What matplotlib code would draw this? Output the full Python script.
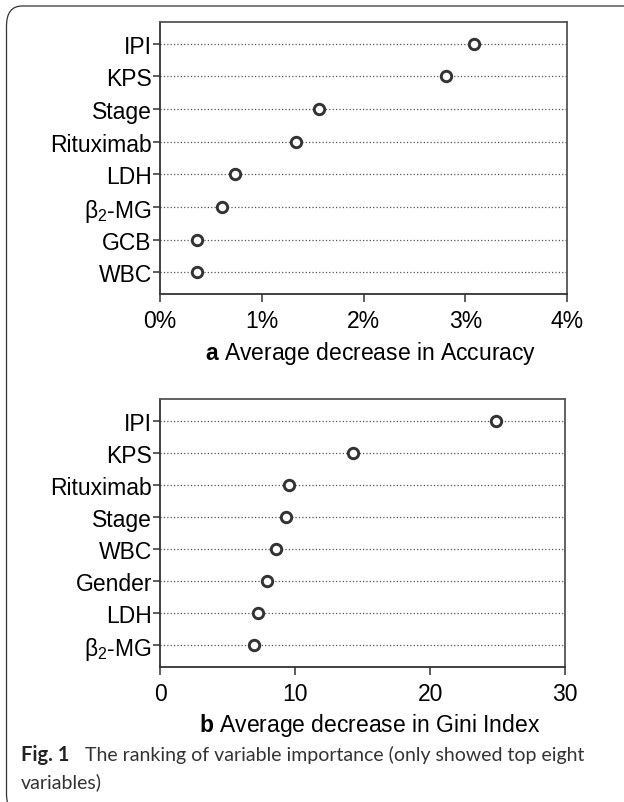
import matplotlib
matplotlib.use("Agg")
import matplotlib.pyplot as plt
from matplotlib.patches import FancyBboxPatch

plt.rcParams['font.family'] = ['Liberation Sans', 'DejaVu Sans']
plt.rcParams['mathtext.fontset'] = 'custom'
plt.rcParams['mathtext.rm'] = 'Liberation Sans'
plt.rcParams['mathtext.bf'] = 'Liberation Sans:bold'

# panel a: average decrease in accuracy (%)
acc_vars = ["IPI", "KPS", "Stage", "Rituximab", "LDH", r"$\mathrm{β}_{2}$-MG", "GCB", "WBC"]
acc_vals = [3.09, 2.81, 1.56, 1.335, 0.735, 0.612, 0.363, 0.36]
acc_ticks = [0, 1, 2, 3, 4]
acc_ticklabels = ["0%", "1%", "2%", "3%", "4%"]

# panel b: average decrease in Gini index
gini_vars = ["IPI", "KPS", "Rituximab", "Stage", "WBC", "Gender", "LDH", r"$\mathrm{β}_{2}$-MG"]
gini_vals = [24.9, 14.26, 9.55, 9.3, 8.55, 7.93, 7.21, 6.97]
gini_ticks = [0, 10, 20, 30]

W, H = 624, 803
fig = plt.figure(figsize=(W / 100, H / 100), dpi=100)

dark = "#333333"
frame = "#555555"
cap_font = ["Lato", "Open Sans", "DejaVu Sans"]


def dot_panel(rect, names, vals, xmax, ticks, ticklabels, label):
    ax = fig.add_axes(rect)
    ypos = list(range(len(names)))
    for y in ypos:
        ax.plot([0, xmax], [y, y], color="#555555", lw=0.9,
                linestyle=(0, (1, 1.7)), zorder=1, clip_on=False)
    ax.plot(vals, ypos, "o", ms=7.5, mfc="white", mec=dark, mew=2.1, zorder=3,
            clip_on=False)
    ax.set_xlim(0, xmax)
    ax.set_ylim(len(names) - 1 + 0.67, -0.67)
    ax.set_yticks(ypos)
    ax.set_yticklabels(names, fontsize=16.5)
    ax.set_xticks(ticks)
    ax.set_xticklabels(ticklabels, fontsize=16.5)
    ax.tick_params(axis="y", length=5, width=1.1, color=dark, pad=1)
    ax.tick_params(axis="x", length=6, width=1.1, color=dark, pad=5)
    for s in ["left", "bottom"]:
        ax.spines[s].set_color(dark)
        ax.spines[s].set_linewidth(1.3)
    for s in ["top", "right"]:
        ax.spines[s].set_color(frame)
        ax.spines[s].set_linewidth(1.3)
    ax.set_xlabel(label, fontsize=16.5, labelpad=5)
    ax.xaxis.set_label_coords(0.517, -0.165)
    return ax


dot_panel([160 / W, 1 - 295 / H, 407 / W, 272 / H], acc_vars, acc_vals, 4,
          acc_ticks, acc_ticklabels, r"$\mathbf{a}$ Average decrease in Accuracy")
dot_panel([160.5 / W, 1 - 668 / H, 404.5 / W, 268 / H], gini_vars, gini_vals, 30,
          gini_ticks, [str(t) for t in gini_ticks],
          r"$\mathbf{b}$ Average decrease in Gini Index")

# caption
fig.text(21 / W, 1 - 755 / H, "Fig. 1", fontsize=14.5, fontweight="bold",
         family=cap_font, color="#222222", va="center")
fig.text(85 / W, 1 - 755 / H,
         "The ranking of variable importance (only showed top eight",
         fontsize=14, family=cap_font, color="#333333", va="center")
fig.text(21 / W, 1 - 782 / H, "variables)", fontsize=14,
         family=cap_font, color="#333333", va="center")

# outer rounded border, cut off on the right and at the bottom
box = FancyBboxPatch((6.5 / W, -12 / H), 640 / W, (H - 7 + 12) / H,
                     boxstyle="round,pad=0,rounding_size=0.025",
                     transform=fig.transFigure, fill=False, ec="#333333",
                     lw=0.9, clip_on=False)
fig.patches.append(box)

fig.savefig("out.png", dpi=100)
